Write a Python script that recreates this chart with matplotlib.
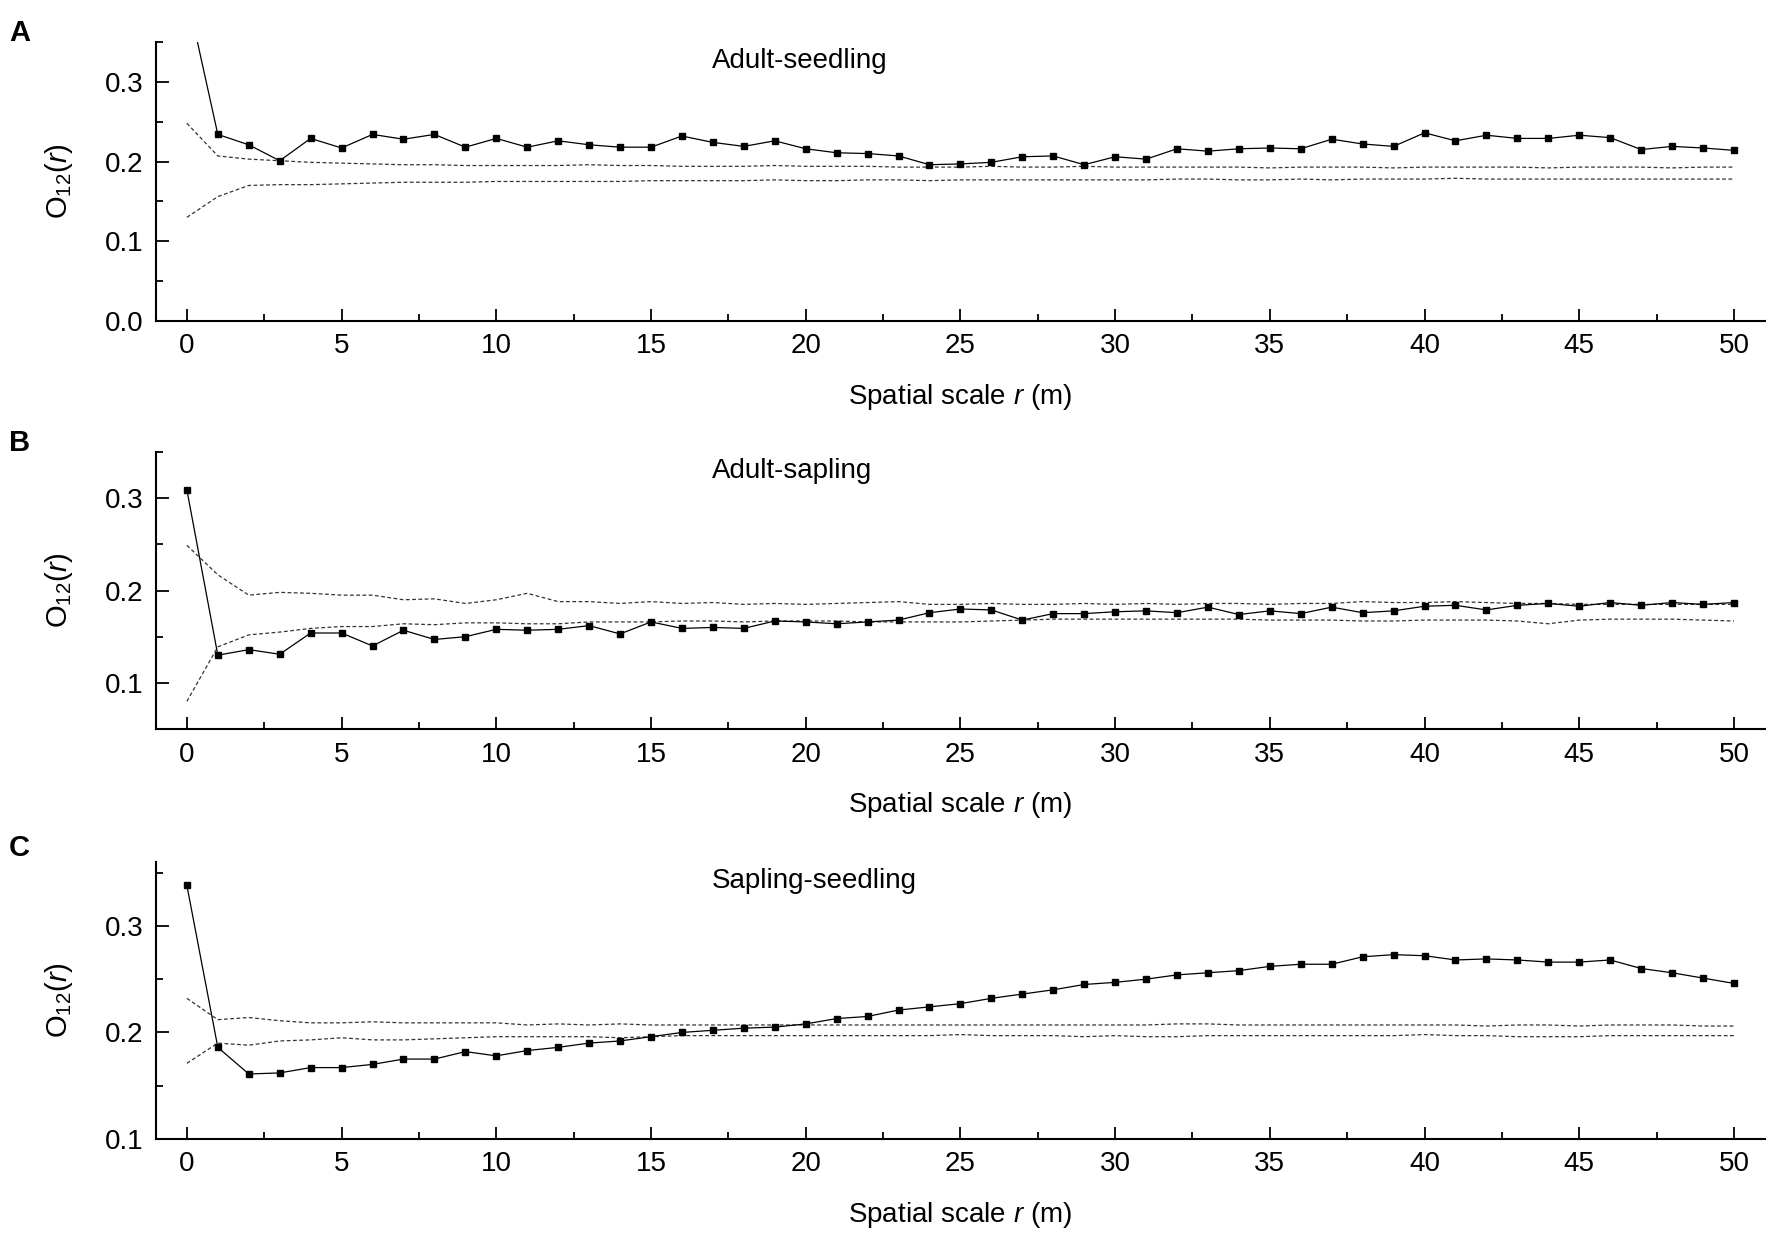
import matplotlib
matplotlib.use("Agg")
import matplotlib.pyplot as plt
from matplotlib.ticker import MultipleLocator

plt.rcParams['font.family'] = ['Liberation Sans', 'DejaVu Sans']
plt.rcParams['mathtext.fontset'] = 'custom'
plt.rcParams['mathtext.rm'] = 'Liberation Sans'
plt.rcParams['mathtext.it'] = 'Liberation Sans:italic'

r = list(range(51))

# A: adult-seedling
obs_a = [0.410, 0.234, 0.221, 0.201, 0.229, 0.217, 0.234, 0.228, 0.234, 0.218,
         0.229, 0.218, 0.226, 0.221, 0.218, 0.218, 0.232, 0.224, 0.219, 0.226,
         0.216, 0.211, 0.210, 0.207, 0.196, 0.197, 0.199, 0.206, 0.207, 0.196,
         0.206, 0.203, 0.216, 0.213, 0.216, 0.217, 0.216, 0.228, 0.222, 0.219,
         0.236, 0.226, 0.233, 0.229, 0.229, 0.233, 0.230, 0.215, 0.219, 0.217,
         0.214]
hi_a = [0.248, 0.207, 0.203, 0.201, 0.199, 0.198, 0.197, 0.196, 0.196, 0.195,
        0.195, 0.195, 0.195, 0.196, 0.195, 0.195, 0.194, 0.194, 0.194, 0.195,
        0.194, 0.194, 0.194, 0.193, 0.193, 0.193, 0.194, 0.193, 0.193, 0.194,
        0.193, 0.193, 0.193, 0.193, 0.193, 0.192, 0.193, 0.193, 0.193, 0.192,
        0.193, 0.193, 0.193, 0.193, 0.192, 0.193, 0.193, 0.193, 0.192, 0.193,
        0.193]
lo_a = [0.130, 0.156, 0.170, 0.171, 0.171, 0.172, 0.173, 0.174, 0.174, 0.174,
        0.175, 0.175, 0.175, 0.175, 0.175, 0.176, 0.176, 0.176, 0.176, 0.177,
        0.176, 0.176, 0.177, 0.177, 0.176, 0.177, 0.177, 0.177, 0.177, 0.177,
        0.177, 0.177, 0.178, 0.178, 0.177, 0.177, 0.178, 0.177, 0.178, 0.178,
        0.178, 0.179, 0.178, 0.178, 0.178, 0.178, 0.178, 0.178, 0.178, 0.178,
        0.178]

# B: adult-sapling
obs_b = [0.309, 0.130, 0.136, 0.131, 0.154, 0.154, 0.140, 0.157, 0.147, 0.150,
         0.158, 0.157, 0.158, 0.162, 0.153, 0.166, 0.159, 0.160, 0.159, 0.167,
         0.166, 0.164, 0.166, 0.168, 0.176, 0.180, 0.179, 0.168, 0.175, 0.175,
         0.177, 0.178, 0.176, 0.182, 0.174, 0.178, 0.175, 0.182, 0.176, 0.178,
         0.183, 0.184, 0.179, 0.184, 0.186, 0.183, 0.187, 0.184, 0.187, 0.185,
         0.187]
hi_b = [0.249, 0.217, 0.195, 0.198, 0.197, 0.195, 0.195, 0.190, 0.191, 0.186,
        0.190, 0.197, 0.188, 0.188, 0.186, 0.188, 0.186, 0.187, 0.185, 0.186,
        0.185, 0.186, 0.187, 0.188, 0.185, 0.185, 0.186, 0.185, 0.185, 0.186,
        0.185, 0.186, 0.185, 0.186, 0.186, 0.185, 0.186, 0.186, 0.188, 0.187,
        0.187, 0.188, 0.187, 0.186, 0.186, 0.185, 0.185, 0.185, 0.185, 0.185,
        0.185]
lo_b = [0.080, 0.139, 0.152, 0.155, 0.159, 0.161, 0.161, 0.164, 0.163, 0.165,
        0.165, 0.164, 0.164, 0.166, 0.166, 0.166, 0.167, 0.167, 0.166, 0.167,
        0.167, 0.167, 0.166, 0.166, 0.166, 0.166, 0.167, 0.168, 0.169, 0.169,
        0.169, 0.169, 0.169, 0.169, 0.169, 0.168, 0.168, 0.168, 0.167, 0.167,
        0.168, 0.168, 0.168, 0.167, 0.164, 0.168, 0.169, 0.169, 0.169, 0.168,
        0.167]

# C: sapling-seedling
obs_c = [0.338, 0.186, 0.161, 0.162, 0.167, 0.167, 0.170, 0.175, 0.175, 0.182,
         0.178, 0.183, 0.186, 0.190, 0.192, 0.196, 0.200, 0.202, 0.204, 0.205,
         0.208, 0.213, 0.215, 0.221, 0.224, 0.227, 0.232, 0.236, 0.240, 0.245,
         0.247, 0.250, 0.254, 0.256, 0.258, 0.262, 0.264, 0.264, 0.271, 0.273,
         0.272, 0.268, 0.269, 0.268, 0.266, 0.266, 0.268, 0.260, 0.256, 0.251,
         0.246]
hi_c = [0.232, 0.212, 0.214, 0.211, 0.209, 0.209, 0.210, 0.209, 0.209, 0.209,
        0.209, 0.207, 0.208, 0.207, 0.208, 0.207, 0.207, 0.207, 0.207, 0.207,
        0.207, 0.207, 0.207, 0.207, 0.207, 0.207, 0.207, 0.207, 0.207, 0.207,
        0.207, 0.207, 0.208, 0.208, 0.207, 0.207, 0.207, 0.207, 0.207, 0.207,
        0.207, 0.207, 0.206, 0.207, 0.207, 0.206, 0.207, 0.207, 0.207, 0.206,
        0.206]
lo_c = [0.171, 0.190, 0.188, 0.192, 0.193, 0.195, 0.193, 0.193, 0.194, 0.195,
        0.196, 0.196, 0.196, 0.196, 0.195, 0.196, 0.197, 0.197, 0.197, 0.197,
        0.197, 0.197, 0.197, 0.197, 0.197, 0.198, 0.197, 0.197, 0.197, 0.196,
        0.197, 0.196, 0.196, 0.197, 0.197, 0.197, 0.197, 0.197, 0.197, 0.197,
        0.198, 0.197, 0.197, 0.196, 0.196, 0.196, 0.197, 0.197, 0.197, 0.197,
        0.197]

panels = [
    ("A", "Adult-seedling", obs_a, hi_a, lo_a, (0.0, 0.35), [0.0, 0.1, 0.2, 0.3]),
    ("B", "Adult-sapling", obs_b, hi_b, lo_b, (0.05, 0.35), [0.1, 0.2, 0.3]),
    ("C", "Sapling-seedling", obs_c, hi_c, lo_c, (0.1, 0.36), [0.1, 0.2, 0.3]),
]

# axes boxes in figure fractions (left, bottom, width, height)
boxes = [(0.0880, 0.7399, 0.908, 0.2261),
         (0.0880, 0.4092, 0.908, 0.2245),
         (0.0880, 0.0770, 0.908, 0.2245)]
letter_y = [0.985, 0.652, 0.324]

FS = 20

fig = plt.figure(figsize=(17.72, 12.34), dpi=100)

for (letter, title, obs, hi, lo, ylim, yticks), box, ly in zip(panels, boxes, letter_y):
    ax = fig.add_axes(box)
    ax.plot(r, hi, color='#333333', lw=0.9, ls=(0, (3, 2)))
    ax.plot(r, lo, color='#333333', lw=0.9, ls=(0, (3, 2)))
    ax.plot(r, obs, color='black', lw=0.9, marker='s', markersize=5,
            markerfacecolor='black', markeredgecolor='black')

    ax.set_xlim(-1, 51)
    ax.set_ylim(*ylim)
    ax.set_yticks(yticks)
    ax.yaxis.set_major_formatter(plt.FormatStrFormatter('%.1f'))
    ax.xaxis.set_major_locator(MultipleLocator(5))
    ax.xaxis.set_minor_locator(MultipleLocator(2.5))
    ax.yaxis.set_minor_locator(MultipleLocator(0.05))

    for s in ['top', 'right']:
        ax.spines[s].set_visible(False)
    for s in ['left', 'bottom']:
        ax.spines[s].set_linewidth(1.5)
    ax.tick_params(which='major', direction='in', length=9, width=1.3,
                   labelsize=FS, pad=9)
    ax.tick_params(which='minor', direction='in', length=5, width=1.3)

    ax.set_xlabel(r'Spatial scale $\mathit{r}$ (m)', fontsize=FS, labelpad=16)
    ax.set_ylabel(r'O$_{\mathit{12}}$($\mathit{r}$)', fontsize=FS + 1)
    ax.yaxis.set_label_coords(-0.050, 0.5)

    ax.text(0.3456, 0.93, title, transform=ax.transAxes, fontsize=FS,
            ha='left', va='center')
    fig.text(0.005, ly, letter, fontsize=21, fontweight='bold',
             ha='left', va='top')

fig.savefig('out.png', dpi=100)
